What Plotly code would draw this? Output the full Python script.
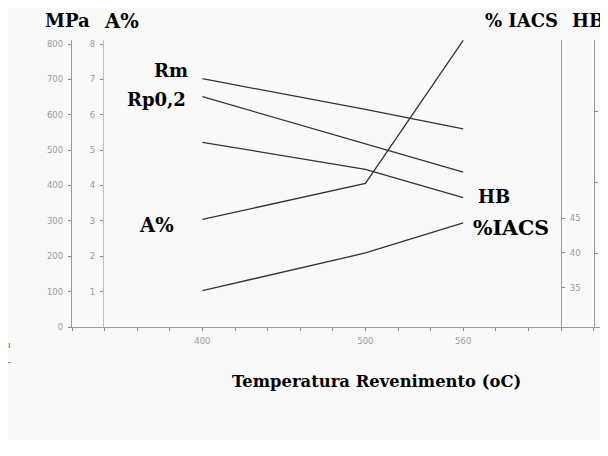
import plotly.graph_objects as go

temps = [400, 500, 560]
rm = [702, 615, 560]
rp02 = [651, 519, 438]
hb = [228, 209, 189]
a_pct = [3.04, 4.06, 8.1]
iacs = [34.6, 40.0, 44.3]

x_ticks = list(range(320, 641, 20))
x_labels = ["400", "500", "560"]
mpa_ticks = [0, 100, 200, 300, 400, 500, 600, 700, 800]
a_ticks = [1, 2, 3, 4, 5, 6, 7, 8]
iacs_ticks = [35, 40, 45]
hb_ticks = [150, 200, 250]

# the figure sits inside the page body with its default 8px margin
OFF = 8
W, H = 600, 432
L = 72 - OFF
R = 0
T = 40 - OFF
B = H - (327 - OFF)
PW, PH = W - L - R, H - T - B
XSCALE = 1.63  # px per degree


def px(x):  # page pixel -> paper fraction
    return (x - OFF - L) / PW


def py(y):
    return (H - B - (y - OFF)) / PH


line = dict(color="#333333", width=1.3)
fig = go.Figure()
fig.add_trace(go.Scatter(x=temps, y=rm, mode="lines", line=line, yaxis="y", cliponaxis=False))
fig.add_trace(go.Scatter(x=temps, y=rp02, mode="lines", line=line, yaxis="y", cliponaxis=False))
fig.add_trace(go.Scatter(x=temps, y=a_pct, mode="lines", line=line, yaxis="y2", cliponaxis=False))
fig.add_trace(go.Scatter(x=temps, y=iacs, mode="lines", line=line, yaxis="y3", cliponaxis=False))
fig.add_trace(go.Scatter(x=temps, y=hb, mode="lines", line=line, yaxis="y4", cliponaxis=False))

tickfont = dict(family="DejaVu Sans", size=8.5, color="#9a9a9a")
axcommon = dict(showgrid=False, zeroline=False, showline=True, linecolor="#9a9a9a",
                linewidth=1.2, ticks="outside", ticklen=3, tickcolor="#8a8a8a",
                tickfont=tickfont, ticklabelstandoff=3, automargin=False)

fig.update_layout(
    width=W, height=H,
    margin=dict(l=L, r=R, t=T, b=B, autoexpand=False),
    paper_bgcolor="#f9f9f9", plot_bgcolor="#f9f9f9",
    showlegend=False,
    xaxis=dict(range=[320, 320 + PW / XSCALE], domain=[0, 1], tickvals=x_ticks,
               ticktext=[t if t in x_labels else "" for t in map(str, x_ticks)],
               **axcommon),
    yaxis=dict(range=[0, 811.3], tickvals=mpa_ticks, **axcommon),
    yaxis2=dict(range=[0, 8.113], tickvals=a_ticks, overlaying="y", anchor="free",
                position=px(103), side="left", **{**axcommon, "linecolor": "#b8c4b4"}),
    yaxis3=dict(range=[29.4, 70.5], tickvals=iacs_ticks, overlaying="y", anchor="free",
                position=px(561), side="right", **axcommon),
    yaxis4=dict(range=[98, 300], tickvals=hb_ticks, overlaying="y", anchor="free",
                position=px(594), side="right", **{**axcommon, "ticklabelstandoff": 5}),
)

tfont = dict(family="DejaVu Serif", size=18, color="#000000")
pfont = dict(family="DejaVu Serif", size=19.5, color="#000000")
ifont = dict(family="DejaVu Serif", size=20.5, color="#000000")
top_labels = [
    ("<b>MPa</b>", 43, "left", tfont),
    ("<b>A%</b>", 102, "left", pfont),
    ("<b>% IACS</b>", 483, "left", tfont),
    ("<b>HB</b>", 570, "left", tfont),
]
for text, x, anchor, f in top_labels:
    fig.add_annotation(text=text, x=px(x), y=1 + T / PH, xref="paper", yref="paper",
                       xanchor=anchor, yanchor="top", showarrow=False, font=f)

labels = [
    ("<b>Rm</b>", 190, 70, "right", tfont),
    ("<b>Rp0,2</b>", 188, 100, "right", tfont),
    ("<b>A%</b>", 176, 225, "right", pfont),
    ("<b>HB</b>", 476, 197, "left", tfont),
    ("<b>%IACS</b>", 471, 228, "left", ifont),
]
for text, x, y, anchor, f in labels:
    fig.add_annotation(text=text, x=px(x), y=py(y), xref="paper", yref="paper",
                       xanchor=anchor, yanchor="middle", showarrow=False, font=f)

fig.add_annotation(text="<b>Temperatura Revenimento (oC)</b>", x=px(376), y=py(381),
                   xref="paper", yref="paper", xanchor="center", yanchor="middle",
                   showarrow=False, font=dict(family="DejaVu Serif", size=16.4, color="#000000"))

# small stray marks at the left edge of the original
for mark, y in [("ı", 345), ("–", 362)]:
    fig.add_annotation(text=mark, x=px(9), y=py(y), xref="paper", yref="paper",
                       xanchor="center", yanchor="middle", showarrow=False,
                       font=dict(family="DejaVu Sans", size=9, color="#555555"))

fig.write_html("out.html")
